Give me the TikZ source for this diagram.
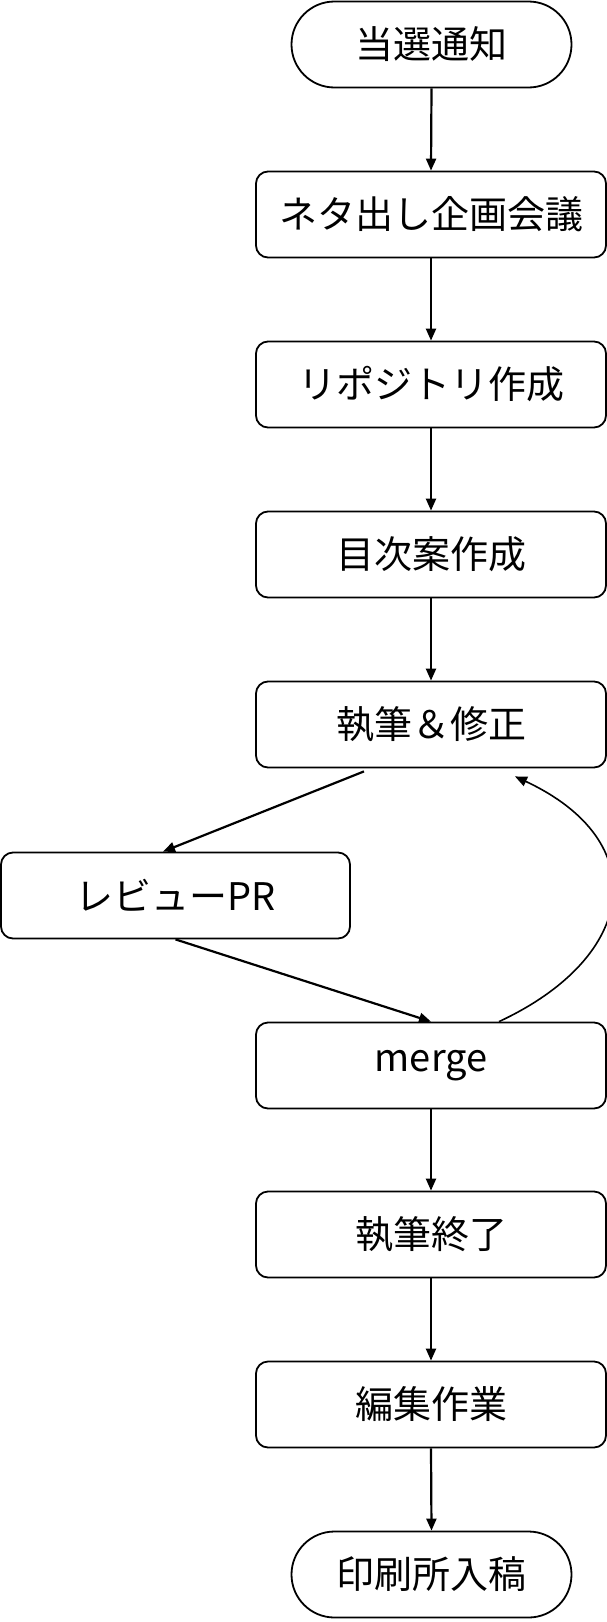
\documentclass[tikz,border=0pt]{standalone}
\usepackage{fontspec}
\setmainfont{Noto Sans CJK JP}
\usetikzlibrary{arrows.meta}

\begin{document}
\begin{tikzpicture}[x=1pt,y=1pt,
  box/.style={draw,line width=1.8pt,rounded corners=12pt,minimum width=350pt,minimum height=86pt,inner sep=0pt,font=\fontsize{38}{40}\selectfont},
  term/.style={box,minimum width=280pt,rounded corners=43pt},
  flow/.style={line width=2.2pt,-{Triangle[length=12pt,width=10pt]}}]
\useasboundingbox (0,0) rectangle (607,-1622);

\node[term] (tsuchi) at (431.5,-44.5) {当選通知};
\node[box] (kaigi) at (431,-214.5) {ネタ出し企画会議};
\node[box] (repo) at (431,-384.5) {リポジトリ作成};
\node[box] (mokuji) at (431,-554.5) {目次案作成};
\node[box] (shippitsu) at (431,-724.5) {執筆＆修正};
\node[box,minimum width=349pt] (review) at (175.5,-895.5) {レビューPR};
\node[box] (merge) at (431,-1065.5) {merge};
\node[box] (owari) at (431,-1234.5) {執筆終了};
\node[box] (henshu) at (431,-1404.5) {編集作業};
\node[term] (nyuko) at (431.5,-1574.5) {印刷所入稿};

\foreach \a/\b in {tsuchi/kaigi,kaigi/repo,repo/mokuji,mokuji/shippitsu,merge/owari,owari/henshu,henshu/nyuko}
\draw[flow] (\a.south) -- (\b.north);

\draw[flow] ([xshift=-67pt,yshift=-3pt]shippitsu.south) -- ([xshift=-12.5pt]review.north);
\draw[flow] (review.south) -- (merge.north);
\draw[flow,line width=1.6pt] ([xshift=68pt]merge.north) to[out=25,in=-25,looseness=1.6] ([xshift=84pt,yshift=-8pt]shippitsu.south);
\end{tikzpicture}
\end{document}
